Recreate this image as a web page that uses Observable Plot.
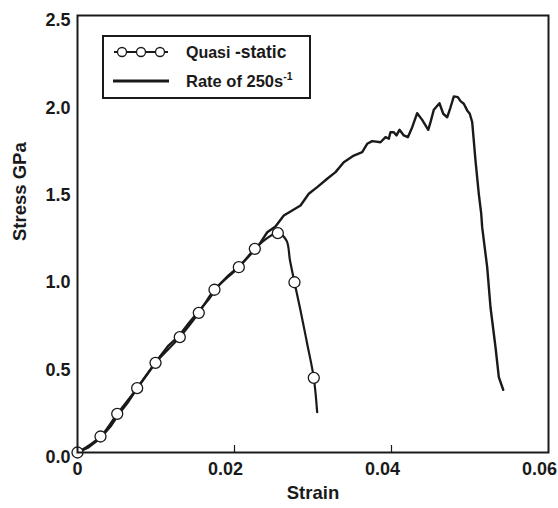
<!DOCTYPE html>
<html>
<head>
<meta charset="utf-8">
<script src="https://cdn.jsdelivr.net/npm/d3@7"></script>
<script src="https://cdn.jsdelivr.net/npm/@observablehq/plot@0.6"></script>
<style>
  html, body { margin: 0; padding: 0; background: #fff; }
  #chart { width: 558px; height: 508px; }
  svg { font-family: "Liberation Sans", Arial, sans-serif; }
</style>
</head>
<body>
<div id="chart"></div>
<script>
// Quasi-static curve (line) and its circle markers
const qsStrain = [0, 0.00293, 0.00506, 0.0076, 0.00994, 0.01303, 0.01545, 0.01745, 0.02055, 0.02259, 0.02408, 0.02552, 0.02662, 0.02707, 0.02764, 0.02841, 0.02926, 0.0301, 0.03053];
const qsStress = [0, 0.0915, 0.221, 0.368, 0.513, 0.660, 0.799, 0.931, 1.060, 1.165, 1.224, 1.255, 1.213, 1.098, 0.974, 0.812, 0.622, 0.427, 0.231];
const qsMarkStrain = [0, 0.00293, 0.00506, 0.0076, 0.00994, 0.01303, 0.01545, 0.01745, 0.02055, 0.02259, 0.02552, 0.02764, 0.0301];
const qsMarkStress = [0, 0.0915, 0.221, 0.368, 0.513, 0.660, 0.799, 0.931, 1.060, 1.165, 1.255, 0.974, 0.427];

// Dynamic curve, rate of 250 s^-1
const dynStrain = [0, 0.0014, 0.00293, 0.0042, 0.00522, 0.0065, 0.00777, 0.00904, 0.01032, 0.01159, 0.01287, 0.01414, 0.01541, 0.01669, 0.01796, 0.01924, 0.02051, 0.02178, 0.02306, 0.02417, 0.02522, 0.02628, 0.02735, 0.02841, 0.02946, 0.03054, 0.03181, 0.03287, 0.03392, 0.0352, 0.03627, 0.0369, 0.03754, 0.0386, 0.03924, 0.03966, 0.03987, 0.04029, 0.04064, 0.04102, 0.04157, 0.04208, 0.04264, 0.04327, 0.04391, 0.04468, 0.04497, 0.04539, 0.04611, 0.04659, 0.0471, 0.04752, 0.04794, 0.04845, 0.04879, 0.04921, 0.04964, 0.04997, 0.05028, 0.0507, 0.05112, 0.05143, 0.05155, 0.05219, 0.05261, 0.05325, 0.05367, 0.05423];
const dynStress = [0, 0.029, 0.083, 0.149, 0.217, 0.292, 0.378, 0.458, 0.538, 0.612, 0.664, 0.738, 0.807, 0.875, 0.955, 1.013, 1.061, 1.121, 1.184, 1.260, 1.293, 1.356, 1.384, 1.413, 1.480, 1.518, 1.566, 1.604, 1.661, 1.699, 1.718, 1.766, 1.781, 1.775, 1.804, 1.795, 1.832, 1.832, 1.814, 1.846, 1.814, 1.804, 1.861, 1.941, 1.903, 1.846, 1.890, 1.961, 1.998, 1.938, 1.918, 1.975, 2.037, 2.033, 2.010, 1.995, 1.957, 1.938, 1.890, 1.670, 1.480, 1.366, 1.289, 1.060, 0.831, 0.602, 0.431, 0.359];

// Axis ticks
const yTicks = [0, 0.5, 1.0, 1.5, 2.0, 2.5];
const xTickFirst = [0];
const xTicksRest = [0.02, 0.04, 0.06];
const xTickMarks = [0.02, 0.04];

const qsLine = qsStrain.map((s, i) => ({strain: s, stress: qsStress[i]}));
const qsMarks = qsMarkStrain.map((s, i) => ({strain: s, stress: qsMarkStress[i]}));
const dynLine = dynStrain.map((s, i) => ({strain: s, stress: dynStress[i]}));

const ink = "#1a1a1a";

const chart = Plot.plot({
  width: 558,
  height: 508,
  marginLeft: 77,
  marginRight: 10,
  marginTop: 15,
  marginBottom: 56,
  style: {fontFamily: "'Liberation Sans', Arial, sans-serif", background: "white"},
  x: {domain: [0, 0.06]},
  y: {domain: [0, 2.5]},
  marks: [
    Plot.axisY({ticks: yTicks, tickSize: 0, tickPadding: 7, dy: 5, tickFormat: d3.format(".1f"),
      fontSize: 18, fontWeight: "bold", fill: ink, label: null}),
    Plot.axisX({ticks: xTickFirst, tickSize: 0, tickPadding: 10, tickFormat: d => "0",
      fontSize: 18, fontWeight: "bold", fill: ink, label: null}),
    Plot.axisX({ticks: xTicksRest, tickSize: 0, tickPadding: 10, dx: -9, tickFormat: d3.format(".2f"),
      fontSize: 18, fontWeight: "bold", fill: ink, label: null}),
    Plot.tickX(xTickMarks, {x: d => d, insetTop: 430, stroke: ink, strokeWidth: 1.2}),
    Plot.line(dynLine, {x: "strain", y: "stress", stroke: ink, strokeWidth: 2.4, strokeLinejoin: "round"}),
    Plot.line(qsLine, {x: "strain", y: "stress", stroke: ink, strokeWidth: 2.2, curve: "catmull-rom"}),
    Plot.dot(qsMarks, {x: "strain", y: "stress", r: 5.5, fill: "white", stroke: ink, strokeWidth: 1.3}),
    Plot.frame({stroke: ink, strokeWidth: 2}),
    Plot.text(["Strain"], {frameAnchor: "bottom", dy: 46, fontSize: 18.5, fontWeight: "bold", fill: ink}),
    Plot.text(["Stress GPa"], {frameAnchor: "left", dx: -57, dy: 7, rotate: -90, fontSize: 18.5, fontWeight: "bold", fill: ink})
  ]
});

document.getElementById("chart").appendChild(chart);

// Legend box (inside the plot frame, top-left)
const svg = d3.select(chart);
const lg = svg.append("g").attr("class", "legend").attr("text-anchor", "start");
lg.append("rect").attr("x", 103).attr("y", 36).attr("width", 207).attr("height", 62)
  .attr("fill", "white").attr("stroke", ink).attr("stroke-width", 2);
lg.append("line").attr("x1", 114).attr("x2", 168).attr("y1", 52).attr("y2", 52)
  .attr("stroke", ink).attr("stroke-width", 2);
[122, 141, 160].forEach(cx => {
  lg.append("circle").attr("cx", cx).attr("cy", 52).attr("r", 4.5)
    .attr("fill", "white").attr("stroke", ink).attr("stroke-width", 1.3);
});
lg.append("line").attr("x1", 113).attr("x2", 169).attr("y1", 81).attr("y2", 81)
  .attr("stroke", ink).attr("stroke-width", 3);
const t1 = lg.append("text").attr("x", 186).attr("y", 58).attr("fill", ink)
  .attr("font-weight", "bold").attr("text-anchor", "start");
t1.append("tspan").attr("font-size", 16).text("Quasi ");
t1.append("tspan").attr("font-size", 17.5).text("-static");
const t2 = lg.append("text").attr("x", 186).attr("y", 87).attr("fill", ink)
  .attr("font-weight", "bold").attr("font-size", 16.5).attr("text-anchor", "start");
t2.append("tspan").text("Rate of 250s");
t2.append("tspan").attr("font-size", 10.5).attr("dy", -7).text("-1");
</script>
</body>
</html>
